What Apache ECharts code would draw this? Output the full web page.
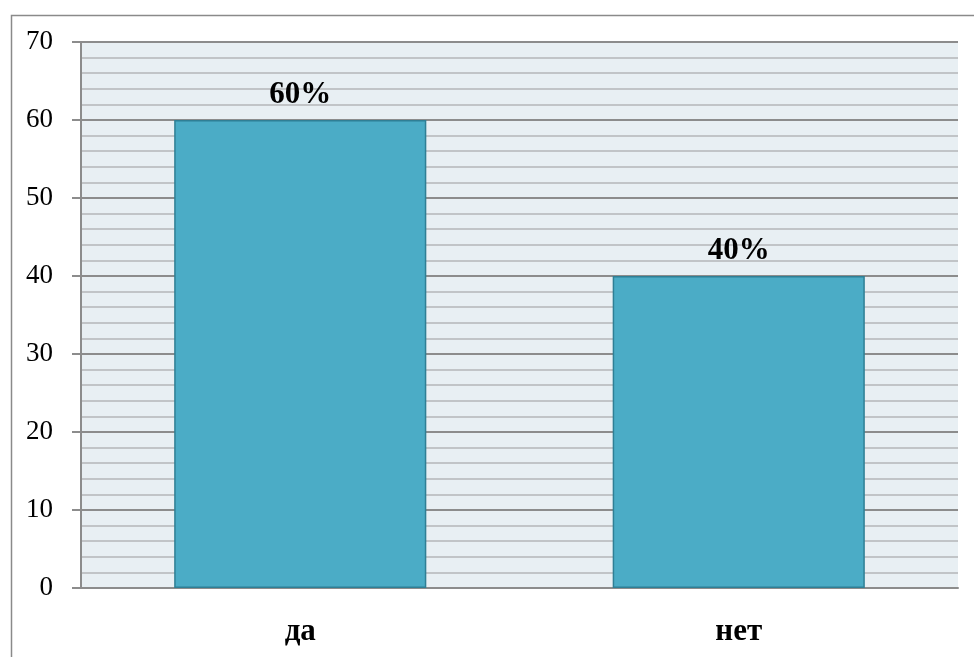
<!DOCTYPE html>
<html>
<head>
<meta charset="utf-8">
<script src="https://cdn.jsdelivr.net/npm/echarts@6/dist/echarts.min.js"></script>
<style>html,body{margin:0;padding:0;background:#fff;}#c{width:974px;height:657px;}</style>
</head>
<body>
<div id="c"></div>
<script>
var categories = ['да', 'нет'];
var values = [60, 40];
var yTicks = [0, 10, 20, 30, 40, 50, 60, 70];

var chart = echarts.init(document.getElementById('c'), null, {renderer: 'canvas'});
chart.setOption({
  animation: false,
  graphic: [{
    type: 'rect', left: 9, top: 13, shape: {width: 1000, height: 700},
    style: {fill: 'none', stroke: '#8a8a8a', lineWidth: 1.5}, z: -10
  }],
  grid: {left: 81, top: 42, right: 16, bottom: 69, show: true, backgroundColor: '#E8EFF3', borderWidth: 0},
  xAxis: {
    type: 'category', data: categories,
    axisLine: {show: true, lineStyle: {color: '#8c8c8c', width: 2}},
    axisTick: {show: false},
    axisLabel: {margin: 28, fontFamily: 'Liberation Serif', fontWeight: 'bold', fontSize: 31, color: '#000'}
  },
  yAxis: {
    type: 'value', min: yTicks[0], max: yTicks[yTicks.length - 1], interval: 10,
    axisLine: {show: true, lineStyle: {color: '#8c8c8c', width: 2}},
    axisTick: {show: true, length: 9, lineStyle: {color: '#8c8c8c', width: 2}},
    axisLabel: {margin: 28, fontFamily: 'Liberation Serif', fontSize: 27, color: '#000'},
    splitLine: {show: true, lineStyle: {color: '#8c8c8c', width: 2}},
    minorTick: {show: false, splitNumber: 5},
    minorSplitLine: {show: true, lineStyle: {color: '#b4b6b8', width: 1.6}}
  },
  series: [{
    type: 'bar', data: values, barWidth: '57.5%',
    itemStyle: {color: '#4BACC6', borderColor: '#2F7F95', borderWidth: 1.5},
    label: {show: true, position: 'top', distance: 10, formatter: '{c}%',
      fontFamily: 'Liberation Serif', fontWeight: 'bold', fontSize: 31, color: '#000'}
  }]
});
</script>
</body>
</html>
